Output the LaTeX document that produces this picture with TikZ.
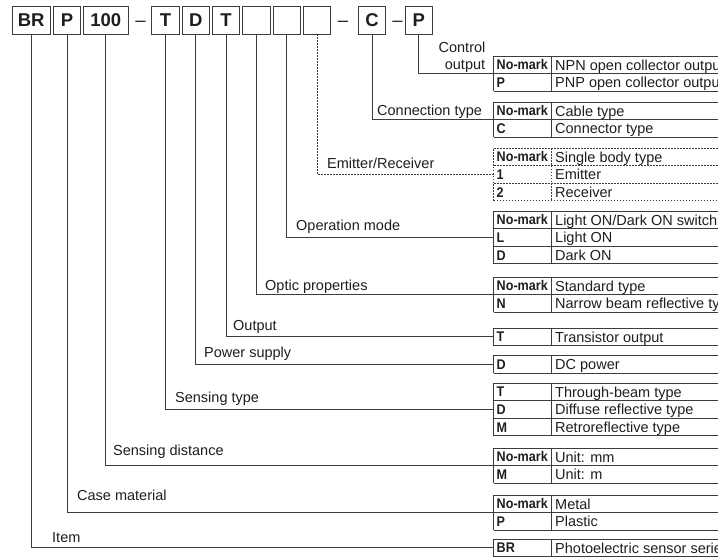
\documentclass[tikz,border=0pt]{standalone}
\usepackage{fontspec}
\setmainfont{Liberation Sans}
\newfontfamily\codefont[FakeStretch=0.9]{Liberation Sans}
\definecolor{ln}{HTML}{3C3C3C}
\definecolor{txt}{HTML}{1E1E1E}
\tikzset{
  tabline/.style={draw=ln, line width=0.9pt},
  conn/.style={draw=ln, line width=0.9pt},
  dashy/.style={dash pattern=on 1.6pt off 1.4pt},
  lbl/.style={font=\fontsize{14.5}{17}\selectfont, text=txt, anchor=west, inner sep=0pt, text height=13pt, text depth=2.6pt},
  codetxt/.style={font=\codefont\fontsize{14}{16}\selectfont\bfseries, text=txt, anchor=west, inner sep=0pt, text height=12.6pt, text depth=2.6pt},
  topbox/.style={draw=ln, line width=0.9pt, minimum height=28pt, minimum width=27.3pt, inner sep=0pt, text height=13.2pt, text depth=0pt, font=\fontsize{18.5}{20}\selectfont\bfseries, text=txt},
  dashtxt/.style={font=\fontsize{18.5}{20}\selectfont, text=txt, inner sep=0pt, anchor=base}
}
\newcommand\codetab[5][]{%
  \coordinate (#2) at (493.5,{#3+#4*8.8});
  \draw[tabline,#1] (493.5,{#3+#4*17.6}) -- (735,{#3+#4*17.6});
  \foreach[count=\i] \c/\d in {#5}{
    \draw[tabline,#1] (493.5,{#3+\i*17.6}) -- (493.5,{#3+(\i-1)*17.6}) -- (735,{#3+(\i-1)*17.6});
    \draw[tabline,#1] (551,{#3+(\i-1)*17.6}) -- (551,{#3+\i*17.6});
    \node[codetxt] (#2-c\i) at (496.5,{#3+(\i-0.5)*17.6}) {\c};
    \node[lbl] (#2-d\i) at (555,{#3+(\i-0.5)*17.6}) {\d};
  }
}
\begin{document}
\begin{tikzpicture}[x=1pt,y=-1pt]
\useasboundingbox (0,0) rectangle (718,558);
\clip (0,0) rectangle (718,558);

% top code boxes
\node[topbox, minimum width=38.5pt] (bBR) at (31.25,20) {BR};
\node[topbox] (bP1) at (67,20) {P};
\node[topbox, minimum width=45pt] (b100) at (105.8,20) {100};
\node[dashtxt] (d1) at (140.5,26) {–};
\node[topbox] (bT1) at (165.5,20) {T};
\node[topbox] (bD) at (195.8,20) {D};
\node[topbox] (bT2) at (226,20) {T};
\node[topbox] (bE1) at (256.4,20) {};
\node[topbox] (bE2) at (286.7,20) {};
\node[topbox] (bE3) at (317,20) {};
\node[dashtxt] (d2) at (343,26) {–};
\node[topbox] (bC) at (372,20) {C};
\node[dashtxt] (d3) at (397.5,26) {–};
\node[topbox] (bP2) at (418.7,20) {P};

% tables
\codetab{tCtrl}{56}{2}{{No-mark}/{NPN open collector output},{P}/{PNP open collector output}}
\codetab{tConn}{102}{2}{{No-mark}/{Cable type},{C}/{Connector type}}
\codetab[dashy]{tER}{148}{3}{{No-mark}/{Single body type},{1}/{Emitter},{2}/{Receiver}}
\codetab{tOp}{211}{3}{{No-mark}/{Light ON/Dark ON switching},{L}/{Light ON},{D}/{Dark ON}}
\codetab{tOpt}{277}{2}{{No-mark}/{Standard type},{N}/{Narrow beam reflective type}}
\codetab{tOut}{328}{1}{{T}/{Transistor output}}
\codetab{tPow}{355.5}{1}{{D}/{DC power}}
\codetab{tSens}{383}{3}{{T}/{Through-beam type},{D}/{Diffuse reflective type},{M}/{Retroreflective type}}
\codetab{tDist}{448}{2}{{No-mark}/{Unit: mm},{M}/{Unit: m}}
\codetab{tCase}{495}{2}{{No-mark}/{Metal},{P}/{Plastic}}
\codetab{tItem}{539}{1}{{BR}/{Photoelectric sensor series}}

% connectors
\draw[conn] (bBR.south) |- (tItem);
\draw[conn] (bP1.south) |- (tCase);
\draw[conn] (b100.south) |- (tDist);
\draw[conn] (bT1.south) |- (tSens);
\draw[conn] (bD.south) |- (tPow);
\draw[conn] (bT2.south) |- (tOut);
\draw[conn] (bE1.south) |- (tOpt);
\draw[conn] (bE2.south) |- (tOp);
\draw[conn,dashy] (bE3.south) |- (tER);
\draw[conn] (bC.south) |- (tConn);
\draw[conn] (bP2.south) |- (tCtrl);

% labels
\node[lbl] (lItem) at (52,537) {Item};
\node[lbl] (lCase) at (77,495) {Case material};
\node[lbl] (lDist) at (113,450) {Sensing distance};
\node[lbl] (lSens) at (175,397) {Sensing type};
\node[lbl] (lPow) at (204,352) {Power supply};
\node[lbl] (lOut) at (233,325) {Output};
\node[lbl] (lOpt) at (265,285) {Optic properties};
\node[lbl] (lOp) at (296,225) {Operation mode};
\node[lbl] (lER) at (327,163) {Emitter/Receiver};
\node[lbl] (lConn) at (377,110.5) {Connection type};
\node[lbl, anchor=center] (lCtrl1) at (462,47.5) {Control};
\node[lbl, anchor=center] (lCtrl2) at (465,64.5) {output};
\end{tikzpicture}
\end{document}
